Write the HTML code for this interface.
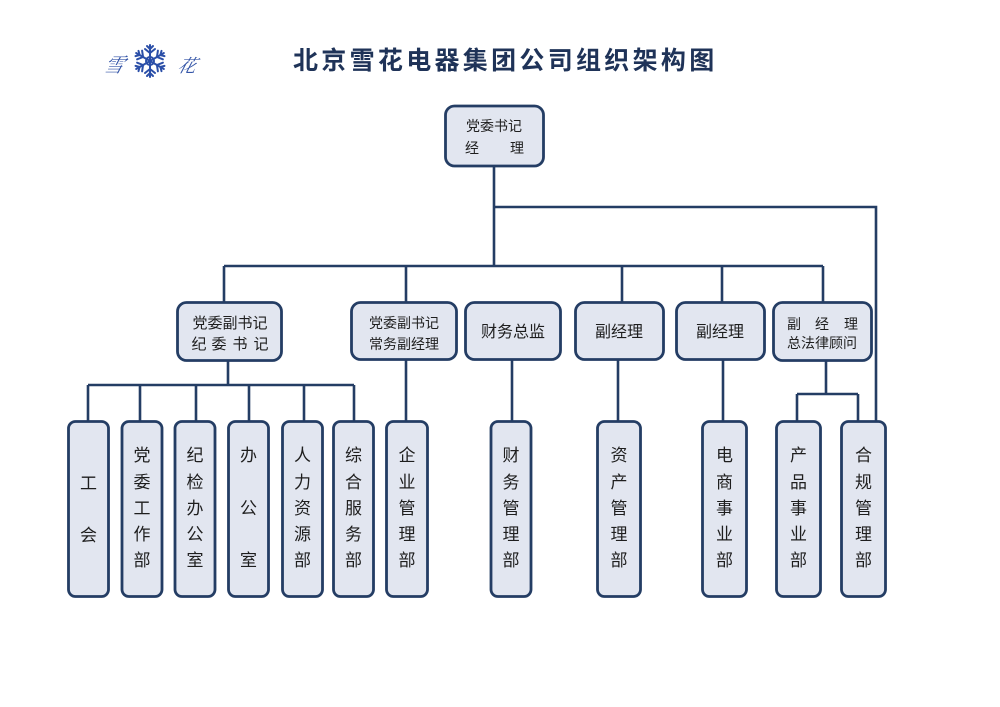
<!DOCTYPE html>
<html><head><meta charset="utf-8"><style>
html,body{margin:0;padding:0;background:#fff;}
svg{display:block;}
text{font-family:"Liberation Sans","Noto Sans CJK SC",sans-serif;fill:#1e1e1e;}
.t{font-family:"Liberation Sans","Noto Sans CJK SC",sans-serif;font-weight:bold;fill:#1f3358;}
</style></head><body>
<svg width="1000" height="707" viewBox="0 0 1000 707" xmlns="http://www.w3.org/2000/svg">
<rect width="1000" height="707" fill="#fff"/>
<!-- logo -->
<text x="104" y="72" font-size="20" font-style="italic" style="fill:#3556a8;font-family:'Noto Serif CJK SC',serif" transform="skewX(-15) translate(18,0)">雪</text>
<text x="178" y="72" font-size="18" font-style="italic" style="fill:#3556a8;font-family:'Noto Serif CJK SC',serif" transform="skewX(-15) translate(18,0)">花</text>
<g stroke="#2b4fa8" stroke-width="2" fill="none" stroke-linecap="round">
 <g transform="translate(150,61)">
  <g id="arm"><line x1="0" y1="0" x2="0" y2="-16"/><line x1="0" y1="-8" x2="-5" y2="-12"/><line x1="0" y1="-8" x2="5" y2="-12"/><line x1="0" y1="-12" x2="-3" y2="-15"/><line x1="0" y1="-12" x2="3" y2="-15"/></g>
  <use href="#arm" transform="rotate(60)"/>
  <use href="#arm" transform="rotate(120)"/>
  <use href="#arm" transform="rotate(180)"/>
  <use href="#arm" transform="rotate(240)"/>
  <use href="#arm" transform="rotate(300)"/>
  <circle r="4"/>
 </g>
</g>
<!-- title -->
<text class="t" x="293" y="69" font-size="25" letter-spacing="3.3">北京雪花电器集团公司组织架构图</text>

<!-- connectors -->
<g stroke="#243d64" stroke-width="2.6" fill="none">
 <line x1="494" y1="166" x2="494" y2="266"/>
 <polyline points="494,207 876,207 876,422"/>
 <line x1="224" y1="266" x2="823" y2="266"/>
 <line x1="224" y1="266" x2="224" y2="303"/>
 <line x1="406" y1="266" x2="406" y2="303"/>
 <line x1="622" y1="266" x2="622" y2="303"/>
 <line x1="722" y1="266" x2="722" y2="303"/>
 <line x1="823" y1="266" x2="823" y2="303"/>
 <line x1="228" y1="360" x2="228" y2="385"/>
 <line x1="88" y1="385" x2="354" y2="385"/>
 <line x1="88" y1="385" x2="88" y2="422"/>
 <line x1="140" y1="385" x2="140" y2="422"/>
 <line x1="196" y1="385" x2="196" y2="422"/>
 <line x1="249" y1="385" x2="249" y2="422"/>
 <line x1="304" y1="385" x2="304" y2="422"/>
 <line x1="354" y1="385" x2="354" y2="422"/>
 <line x1="406" y1="359" x2="406" y2="422"/>
 <line x1="512" y1="359" x2="512" y2="422"/>
 <line x1="618" y1="359" x2="618" y2="422"/>
 <line x1="723" y1="359" x2="723" y2="422"/>
 <line x1="826" y1="359" x2="826" y2="394"/>
 <line x1="797" y1="394" x2="858" y2="394"/>
 <line x1="797" y1="394" x2="797" y2="422"/>
 <line x1="858" y1="394" x2="858" y2="422"/>
</g>

<!-- boxes -->
<g fill="#e2e6f0" stroke="#243d64" stroke-width="2.8">
 <rect x="445.5" y="106" width="98" height="60" rx="9"/>
 <rect x="177.5" y="302.5" width="104" height="58" rx="9"/>
 <rect x="351.5" y="302.5" width="105" height="57" rx="9"/>
 <rect x="465.5" y="302.5" width="95" height="57" rx="9"/>
 <rect x="575.5" y="302.5" width="88" height="57" rx="9"/>
 <rect x="676.5" y="302.5" width="88" height="57" rx="9"/>
 <rect x="773.5" y="302.5" width="98" height="58" rx="9"/>

 <rect x="68.5" y="421.5" width="40" height="175" rx="7"/>
 <rect x="122" y="421.5" width="40" height="175" rx="7"/>
 <rect x="175" y="421.5" width="40" height="175" rx="7"/>
 <rect x="228.5" y="421.5" width="40" height="175" rx="7"/>
 <rect x="282.5" y="421.5" width="40" height="175" rx="7"/>
 <rect x="333.5" y="421.5" width="40" height="175" rx="7"/>
 <rect x="386.5" y="421.5" width="41" height="175" rx="7"/>
 <rect x="491" y="421.5" width="40" height="175" rx="7"/>
 <rect x="597.5" y="421.5" width="43" height="175" rx="7"/>
 <rect x="702.5" y="421.5" width="44" height="175" rx="7"/>
 <rect x="776.5" y="421.5" width="44" height="175" rx="7"/>
 <rect x="841.5" y="421.5" width="44" height="175" rx="7"/>
</g>

<!-- top box text -->
<text x="494" y="131" font-size="14" text-anchor="middle">党委书记</text>
<text x="472" y="153" font-size="14" text-anchor="middle">经</text>
<text x="517" y="153" font-size="14" text-anchor="middle">理</text>

<!-- mid box texts -->
<text x="230" y="328" font-size="15" text-anchor="middle">党委副书记</text>
<g font-size="15" text-anchor="middle">
 <text x="199" y="349">纪</text><text x="219" y="349">委</text><text x="240" y="349">书</text><text x="261" y="349">记</text>
</g>
<text x="404" y="328" font-size="14" text-anchor="middle">党委副书记</text>
<text x="404" y="349" font-size="14" text-anchor="middle">常务副经理</text>
<text x="513" y="337" font-size="16" text-anchor="middle">财务总监</text>
<text x="619" y="337" font-size="16" text-anchor="middle">副经理</text>
<text x="720" y="337" font-size="16" text-anchor="middle">副经理</text>
<g font-size="14" text-anchor="middle">
 <text x="794" y="329">副</text><text x="822" y="329">经</text><text x="851" y="329">理</text>
</g>
<text x="822" y="348" font-size="14" text-anchor="middle">总法律顾问</text>

<!-- bottom texts -->
<g font-size="17" text-anchor="middle">
 <text x="88.5" y="489">工</text><text x="88.5" y="541">会</text>
 <g transform="translate(142,0)"><text y="461">党</text><text y="488">委</text><text y="514">工</text><text y="540">作</text><text y="566">部</text></g>
 <g transform="translate(195,0)"><text y="461">纪</text><text y="488">检</text><text y="514">办</text><text y="540">公</text><text y="566">室</text></g>
 <g transform="translate(248.5,0)"><text y="461">办</text><text y="514">公</text><text y="566">室</text></g>
 <g transform="translate(302.5,0)"><text y="461">人</text><text y="488">力</text><text y="514">资</text><text y="540">源</text><text y="566">部</text></g>
 <g transform="translate(353.5,0)"><text y="461">综</text><text y="488">合</text><text y="514">服</text><text y="540">务</text><text y="566">部</text></g>
 <g transform="translate(407,0)"><text y="461">企</text><text y="488">业</text><text y="514">管</text><text y="540">理</text><text y="566">部</text></g>
 <g transform="translate(511,0)"><text y="461">财</text><text y="488">务</text><text y="514">管</text><text y="540">理</text><text y="566">部</text></g>
 <g transform="translate(619,0)"><text y="461">资</text><text y="488">产</text><text y="514">管</text><text y="540">理</text><text y="566">部</text></g>
 <g transform="translate(724.5,0)"><text y="461">电</text><text y="488">商</text><text y="514">事</text><text y="540">业</text><text y="566">部</text></g>
 <g transform="translate(798.5,0)"><text y="461">产</text><text y="488">品</text><text y="514">事</text><text y="540">业</text><text y="566">部</text></g>
 <g transform="translate(863.5,0)"><text y="461">合</text><text y="488">规</text><text y="514">管</text><text y="540">理</text><text y="566">部</text></g>
</g>
</svg>
</body></html>
